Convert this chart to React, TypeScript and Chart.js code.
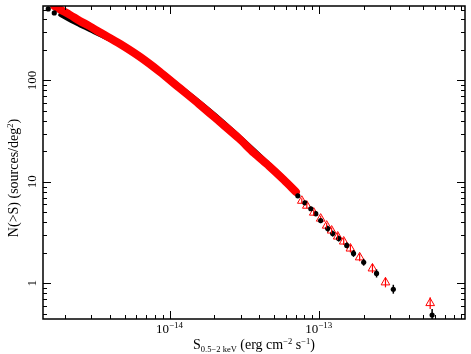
import React, { useEffect, useRef } from "react";
import { Chart, registerables } from "chart.js";

Chart.register(...registerables);

// ---- data ----
// dense part of the black curve (flux, N(>S))
const blackLineX = [1.85e-15, 2.15e-15, 2.51e-15, 2.93e-15, 3.41e-15, 4.64e-15, 6.31e-15, 8.58e-15, 1.166e-14, 1.585e-14, 2.15e-14, 2.93e-14, 3.69e-14, 4.64e-14, 5.84e-14, 6.81e-14];
const blackLineY = [444, 392, 350, 313, 282, 225, 172, 126.7, 88.3, 61.6, 42.4, 28.2, 20.6, 15.0, 10.9, 8.73];

// dense part of the red curve
const redLineX = [1.69e-15, 1.85e-15, 2.15e-15, 2.51e-15, 2.93e-15, 3.41e-15, 4.64e-15, 6.31e-15, 8.58e-15, 1.166e-14, 1.585e-14, 2.15e-14, 2.93e-14, 3.69e-14, 4.64e-14, 5.84e-14, 7.03e-14];
const redLineY = [543, 502, 444, 387, 342, 299, 230.5, 172, 122.5, 84.4, 58.2, 39.6, 26.7, 19.2, 14.35, 10.46, 7.97];

// individual black points with errors
const blackPtsX = [1.54e-15, 1.69e-15, 7.24e-14, 8.07e-14, 8.85e-14, 9.55e-14, 1.03e-13, 1.148e-13, 1.24e-13, 1.36e-13, 1.54e-13, 1.71e-13, 2.0e-13, 2.44e-13, 3.16e-13, 5.75e-13];
const blackPtsY = [508, 464, 7.29, 6.22, 5.43, 4.86, 4.15, 3.46, 3.09, 2.76, 2.36, 1.97, 1.61, 1.25, 0.873, 0.486];
const blackPtsHi = [520, 475, 7.63, 6.51, 5.68, 5.14, 4.39, 3.70, 3.31, 2.95, 2.53, 2.13, 1.74, 1.37, 0.966, 0.556];
const blackPtsLo = [496, 453, 6.97, 5.95, 5.19, 4.59, 3.92, 3.23, 2.89, 2.58, 2.21, 1.82, 1.49, 1.14, 0.789, 0.424];

// individual red points with errors
const redPtsX = [7.70e-14, 8.32e-14, 9.26e-14, 1.03e-13, 1.13e-13, 1.22e-13, 1.34e-13, 1.47e-13, 1.63e-13, 1.88e-13, 2.29e-13, 2.80e-13, 5.58e-13];
const redPtsY = [6.51, 5.82, 4.97, 4.34, 3.70, 3.31, 2.89, 2.58, 2.20, 1.80, 1.40, 1.02, 0.637];
const redPtsHi = [6.89, 6.16, 5.32, 4.64, 3.96, 3.54, 3.13, 2.79, 2.41, 1.97, 1.55, 1.14, 0.729];
const redPtsLo = [6.15, 5.50, 4.64, 4.06, 3.46, 3.09, 2.67, 2.38, 2.01, 1.65, 1.26, 0.911, 0.556];

// axes
const xRange = [1.42e-15, 9.55e-13];
const yRange = [0.444, 543];
const xMajorTicks = [1e-14, 1e-13];
const xTickExponents = ["\u221214", "\u221213"];
const yMajorTicks = [1, 10, 100];
const yTickLabels = ["1", "10", "100"];
const xDecades = [-15, -14, -13];
const yDecades = [-1, 0, 1, 2];

const FONT = "'Liberation Serif', 'DejaVu Serif', serif";

const errorBarPlugin = {
  id: "errorBars",
  afterDatasetsDraw(chart: any) {
    const { ctx, chartArea, scales } = chart;
    ctx.save();
    ctx.beginPath();
    ctx.rect(chartArea.left, chartArea.top, chartArea.right - chartArea.left, chartArea.bottom - chartArea.top);
    ctx.clip();
    chart.data.datasets.forEach((ds: any, i: number) => {
      if (!ds.errHi) return;
      const meta = chart.getDatasetMeta(i);
      ctx.strokeStyle = ds.errColor;
      ctx.lineWidth = ds.errWidth;
      meta.data.forEach((el: any, j: number) => {
        const yh = scales.y.getPixelForValue(ds.errHi[j]);
        const yl = scales.y.getPixelForValue(ds.errLo[j]);
        ctx.beginPath();
        ctx.moveTo(el.x, yh);
        ctx.lineTo(el.x, yl);
        ctx.stroke();
      });
    });
    ctx.restore();
  },
};

const framePlugin = {
  id: "frameTicks",
  afterDraw(chart: any) {
    const { ctx, chartArea, scales } = chart;
    const { left, right, top, bottom } = chartArea;
    ctx.save();
    ctx.strokeStyle = "#000";
    ctx.fillStyle = "#000";
    // ticks
    ctx.lineWidth = 1;
    const major = 8;
    const minor = 4;
    xDecades.forEach((d) => {
      for (let m = 1; m <= 9; m++) {
        const v = m * Math.pow(10, d);
        if (v < xRange[0] || v > xRange[1]) continue;
        const px = Math.round(scales.x.getPixelForValue(v)) + 0.5;
        const len = m === 1 ? major : minor;
        ctx.beginPath();
        ctx.moveTo(px, bottom);
        ctx.lineTo(px, bottom - len);
        ctx.moveTo(px, top);
        ctx.lineTo(px, top + len);
        ctx.stroke();
      }
    });
    yDecades.forEach((d) => {
      for (let m = 1; m <= 9; m++) {
        const v = m * Math.pow(10, d);
        if (v < yRange[0] || v > yRange[1]) continue;
        const py = Math.round(scales.y.getPixelForValue(v)) + 0.5;
        const len = m === 1 ? major : minor;
        ctx.beginPath();
        ctx.moveTo(left, py);
        ctx.lineTo(left + len, py);
        ctx.moveTo(right, py);
        ctx.lineTo(right - len, py);
        ctx.stroke();
      }
    });
    // frame
    ctx.lineWidth = 1.5;
    ctx.strokeRect(left, top, right - left, bottom - top);

    // x tick labels
    ctx.textBaseline = "alphabetic";
    xMajorTicks.forEach((v, i) => {
      const px = scales.x.getPixelForValue(v);
      ctx.font = `13px ${FONT}`;
      const w1 = ctx.measureText("10").width;
      ctx.font = `9px ${FONT}`;
      const w2 = ctx.measureText(xTickExponents[i]).width;
      const x0 = px - (w1 + w2) / 2;
      ctx.font = `13px ${FONT}`;
      ctx.textAlign = "left";
      ctx.fillText("10", x0, 333);
      ctx.font = `9px ${FONT}`;
      ctx.fillText(xTickExponents[i], x0 + w1, 328);
    });

    // y tick labels (rotated)
    yMajorTicks.forEach((v, i) => {
      const py = scales.y.getPixelForValue(v);
      ctx.save();
      ctx.translate(35.5, py);
      ctx.rotate(-Math.PI / 2);
      ctx.font = `13px ${FONT}`;
      ctx.textAlign = "center";
      ctx.fillText(yTickLabels[i], 0, 0);
      ctx.restore();
    });

    const drawParts = (p: [string, number, number][], cx: number, base: number) => {
      let total = 0;
      p.forEach(([t, s]) => {
        ctx.font = `${s}px ${FONT}`;
        total += ctx.measureText(t).width;
      });
      let x = cx - total / 2;
      ctx.textAlign = "left";
      p.forEach(([t, s, dy]) => {
        ctx.font = `${s}px ${FONT}`;
        ctx.fillText(t, x, base + dy);
        x += ctx.measureText(t).width;
      });
    };

    // x title
    drawParts(
      [
        ["S", 14, 0],
        ["0.5\u22122 keV", 8.5, 3],
        [" (erg cm", 14, 0],
        ["\u22122", 8.5, -5.5],
        [" s", 14, 0],
        ["\u22121", 8.5, -5.5],
        [")", 14, 0],
      ],
      (left + right) / 2,
      349
    );

    // y title (rotated)
    ctx.save();
    ctx.translate(18, 178);
    ctx.rotate(-Math.PI / 2);
    drawParts(
      [
        ["N(>S) (sources/deg", 14, 0],
        ["2", 8.5, -5.5],
        [")", 14, 0],
      ],
      0,
      0
    );
    ctx.restore();
    ctx.restore();
  },
};

export default function App() {
  const ref = useRef<HTMLCanvasElement | null>(null);

  useEffect(() => {
    document.body.style.margin = "0";
    if (!ref.current) return;
    const toPts = (xs: number[], ys: number[]) => xs.map((x, i) => ({ x, y: ys[i] }));
    const chart = new Chart(ref.current, {
      type: "scatter",
      data: {
        datasets: [
          {
            label: "black line",
            data: toPts(blackLineX, blackLineY),
            showLine: true,
            borderColor: "#000000",
            borderWidth: 4,
            pointRadius: 0,
            tension: 0.3,
            borderCapStyle: "round",
            borderJoinStyle: "round",
            order: 4,
          } as any,
          {
            label: "red line",
            data: toPts(redLineX, redLineY),
            showLine: true,
            borderColor: "#ff0000",
            borderWidth: 8,
            pointRadius: 0,
            tension: 0.3,
            borderCapStyle: "round",
            borderJoinStyle: "round",
            order: 3,
          } as any,
          {
            label: "red points",
            data: toPts(redPtsX, redPtsY),
            showLine: false,
            pointStyle: "triangle",
            pointRadius: 5,
            borderWidth: 1,
            borderColor: "#ff0000",
            backgroundColor: "rgba(0,0,0,0)",
            errHi: redPtsHi,
            errLo: redPtsLo,
            errColor: "#ff0000",
            errWidth: 1.2,
            order: 2,
          } as any,
          {
            label: "black points",
            data: toPts(blackPtsX, blackPtsY),
            showLine: false,
            pointStyle: "circle",
            pointRadius: 2.6,
            borderWidth: 0,
            backgroundColor: "#000000",
            errHi: blackPtsHi,
            errLo: blackPtsLo,
            errColor: "#000000",
            errWidth: 1.5,
            order: 1,
          } as any,
        ],
      },
      options: {
        animation: false,
        responsive: false,
        events: [],
        layout: { padding: { left: 43, top: 4, right: 4, bottom: 35 } },
        plugins: { legend: { display: false }, tooltip: { enabled: false } },
        scales: {
          x: { type: "logarithmic", min: xRange[0], max: xRange[1], display: false },
          y: { type: "logarithmic", min: yRange[0], max: yRange[1], display: false },
        },
      },
      plugins: [errorBarPlugin, framePlugin],
    });
    return () => chart.destroy();
  }, []);

  return <canvas ref={ref} width={471} height={354} style={{ display: "block" }} />;
}
